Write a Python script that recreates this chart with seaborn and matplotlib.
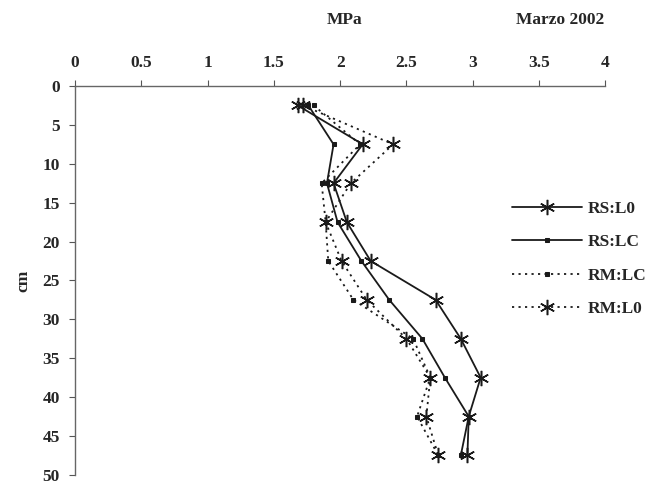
import pandas as pd
import seaborn as sns
import matplotlib.pyplot as plt

# depth of each measurement (cm)
depth = [2.5, 7.5, 12.5, 17.5, 22.5, 27.5, 32.5, 37.5, 42.5, 47.5]

# penetration resistance (MPa)
rs_l0 = [1.68, 2.17, 1.95, 2.05, 2.23, 2.72, 2.91, 3.06, 2.97, 2.96]
rs_lc = [1.76, 1.95, 1.90, 1.98, 2.16, 2.37, 2.62, 2.79, 2.97, 2.91]
rm_lc = [1.80, 2.15, 1.86, 1.89, 1.91, 2.10, 2.55, 2.68, 2.58, 2.74]
rm_l0 = [1.72, 2.40, 2.08, 1.89, 2.01, 2.20, 2.50, 2.68, 2.65, 2.74]

series_names = ["RS:L0", "RS:LC", "RM:LC", "RM:L0"]
x_ticks = [0, 0.5, 1, 1.5, 2, 2.5, 3, 3.5, 4]
x_tick_labels = ["0", "0.5", "1", "1.5", "2", "2.5", "3", "3.5", "4"]
y_ticks = [0, 5, 10, 15, 20, 25, 30, 35, 40, 45, 50]

df = pd.DataFrame({
    "cm": depth * 4,
    "MPa": rs_l0 + rs_lc + rm_lc + rm_l0,
    "serie": sum([[n] * len(depth) for n in series_names], []),
})

sns.set_style("ticks")
plt.rcParams["font.family"] = ["Liberation Serif", "DejaVu Serif"]
plt.rcParams["font.weight"] = "bold"
fs = 12.5

asterisk = (6, 2, 0)
dots = (0, (1.2, 2.4))
styles = {
    "RS:L0": dict(linestyle="-", marker=asterisk, markersize=11, markeredgewidth=1.1),
    "RS:LC": dict(linestyle="-", marker="s", markersize=3.5),
    "RM:LC": dict(linestyle=dots, marker="s", markersize=3.5),
    "RM:L0": dict(linestyle=dots, marker=asterisk, markersize=11, markeredgewidth=1.1),
}

fig = plt.figure(figsize=(6.48, 4.86), dpi=100)
ax = fig.add_axes([0.116, 0.023, 0.818, 0.8])

for name in series_names:
    sub = df[df["serie"] == name]
    sns.lineplot(data=sub, x="MPa", y="cm", orient="y", sort=False, ax=ax,
                 color="#1a1a1a", linewidth=1.3, label=name,
                 markeredgecolor="#1a1a1a", markerfacecolor="#1a1a1a",
                 **styles[name])

ax.set_xlim(0, 4)
ax.set_ylim(50, 0)
ax.set_xticks(x_ticks)
ax.set_xticklabels(x_tick_labels)
ax.set_yticks(y_ticks)
ax.xaxis.tick_top()
ax.tick_params(axis="both", labelsize=fs, direction="out", length=4,
               color="#555555", pad=7)
for lbl in ax.get_xticklabels() + ax.get_yticklabels():
    lbl.set_fontweight("bold")

for side in ["right", "bottom"]:
    ax.spines[side].set_visible(False)
for side in ["left", "top"]:
    ax.spines[side].set_color("#666666")
    ax.spines[side].set_linewidth(1.0)

ax.set_xlabel("")
ax.set_ylabel("cm", fontsize=fs, fontweight="bold", labelpad=8)
fig.text(0.532, 0.958, "MPa", ha="center", va="center", fontsize=fs, fontweight="bold")
fig.text(0.865, 0.958, "Marzo 2002", ha="center", va="center", fontsize=fs, fontweight="bold")

ax.legend(loc="center left", bbox_to_anchor=(0.795, 0.555), frameon=False,
          handlelength=4.0, labelspacing=1.0, handletextpad=0.35,
          prop={"weight": "bold", "size": fs})

fig.savefig("out.png", dpi=100)
